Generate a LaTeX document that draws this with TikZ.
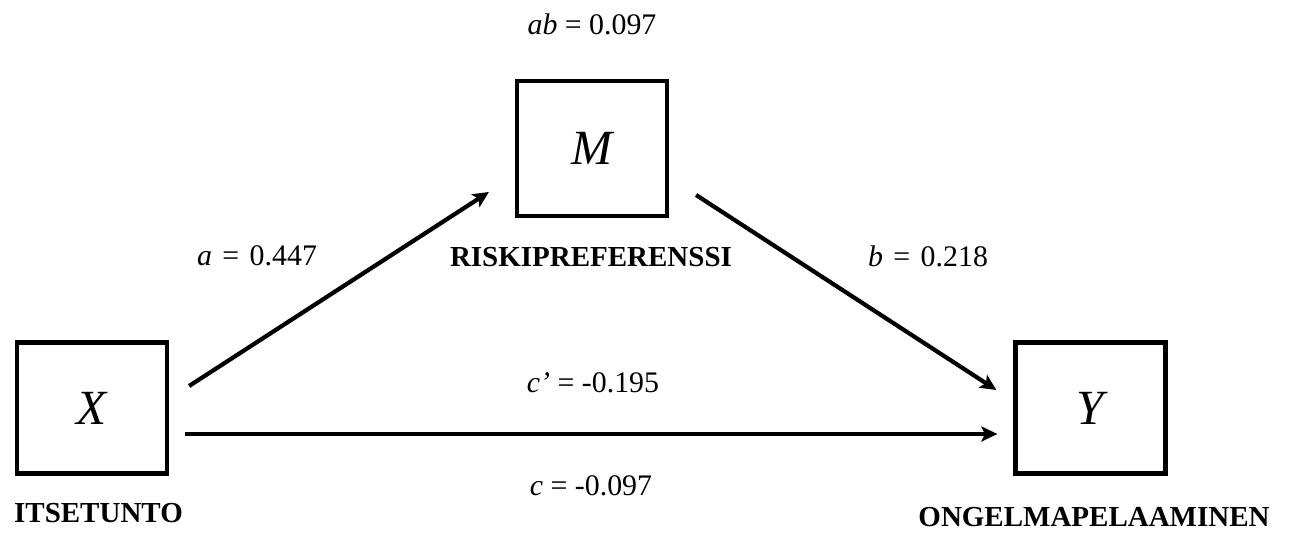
\documentclass[tikz,border=0pt]{standalone}
\usepackage{fontspec}
\setmainfont{Liberation Serif}
\usetikzlibrary{arrows.meta, positioning}

\begin{document}
\begin{tikzpicture}[
  x=0.02cm, y=-0.02cm,
  var/.style={
    rectangle, draw=black, line width=2.4pt,
    minimum width=3.0cm, minimum height=2.62cm,
    font=\fontsize{28}{32}\selectfont\itshape
  },
  coef/.style={font=\fontsize{17}{20}\selectfont},
  varlabel/.style={inner sep=0.5pt, font=\fontsize{16.5}{20}\selectfont\bfseries},
  effect/.style={line width=2.4pt, -{Stealth[length=0.32cm, width=0.3cm, inset=0.07cm]}}
]
  \useasboundingbox (0,0) rectangle (1289,532);

  \node[var] (X) at (92,408) {X};
  \node[var, minimum height=2.7cm] (M) at (592,148.5) {M};
  \node[var] (Y) at (1090.5,408) {Y};

  % paths
  \draw[effect] ([xshift=0.4cm, yshift=0.44cm]X.east) -- ([xshift=-0.52cm, yshift=-0.87cm]M.west);
  \draw[effect] ([xshift=0.54cm, yshift=-0.93cm]M.east) -- ([xshift=-0.34cm, yshift=0.36cm]Y.west);
  \draw[effect] ([xshift=0.32cm, yshift=-0.52cm]X.east) -- ([xshift=-0.32cm, yshift=-0.52cm]Y.west);

  % coefficients
  \node[coef] (ab) at (592,24) {\textit{ab} = 0.097};
  \node[coef] (a) at (257,256) {\textit{a}\hspace{0.35em}=\hspace{0.35em}0.447};
  \node[coef] (b) at (928,256) {\textit{b}\hspace{0.35em}=\hspace{0.35em}0.218};
  \node[coef] (cp) at (593,383) {\textit{c’} = -0.195};
  \node[coef] (c) at (591,486) {\textit{c} = -0.097};

  % variable names
  \node[varlabel] (Xname) at (98.5,513) {ITSETUNTO};
  \node[varlabel] (Mname) at (591,257) {RISKIPREFERENSSI};
  \node[varlabel] (Yname) at (1094,517) {ONGELMAPELAAMINEN};
\end{tikzpicture}
\end{document}
